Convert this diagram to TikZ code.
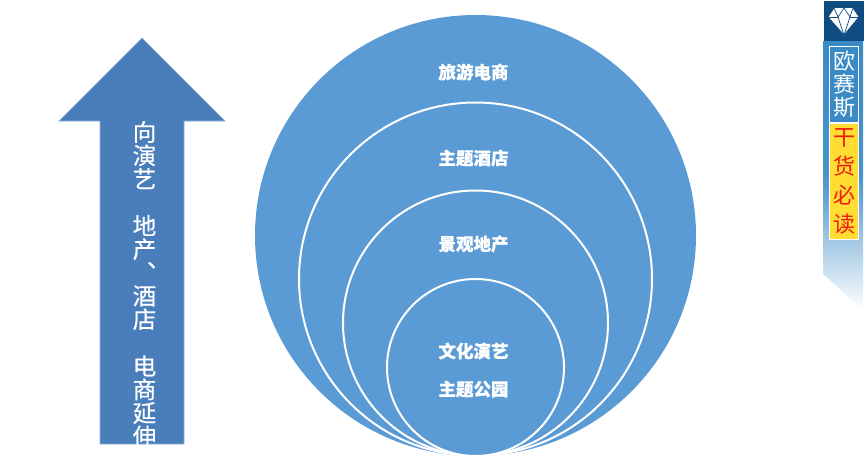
\documentclass[tikz,border=0pt]{standalone}
\usepackage{fontspec}
\setmainfont{Noto Sans CJK SC}
\newfontfamily\heavyfont[BoldFeatures={FakeBold=0.5}]{Noto Sans CJK SC}
\newfontfamily\stemfont[FakeBold=0.5]{Noto Sans CJK SC}
\usetikzlibrary{positioning}
\definecolor{ringblue}{HTML}{5B9BD5}
\definecolor{arrowblue}{HTML}{4A7EBB}
\definecolor{stripblue}{HTML}{3A8AC6}
\definecolor{capblue}{HTML}{0F4C81}
\definecolor{tagyellow}{HTML}{FFDD33}
\definecolor{tagred}{HTML}{F01A10}

\begin{document}
\begin{tikzpicture}[x=1pt,y=-1pt,
		ring/.style={circle, draw=white, line width=2pt, fill=ringblue, inner sep=0pt},
		ringlabel/.style={text=white, font=\fontsize{17.5}{20}\heavyfont\bfseries, inner sep=0pt},
		stacked/.style={align=center, inner sep=0pt, font=\fontsize{23.5}{23.4}\stemfont},
		tagbox/.style={draw=white, line width=1.2pt, minimum width=29pt, inner sep=0pt, anchor=north},
		facet/.style={draw=capblue, line width=0.7pt, fill=white, line join=round}]
	\useasboundingbox (0,0) rectangle (865,463);
	% arrow on the left
	\draw[fill=arrowblue, draw=arrowblue!60!white, line width=0.6pt]
		(142,38) -- (225,121) -- (184,121) -- (184,444) -- (100,444) -- (100,121) -- (59,121) -- cycle;
	\begin{scope}
		\clip (100,38) rectangle (184,444);
		\node[stacked, text=white, anchor=north] (arrowtext) at (144.5,121)
			{向\\演\\艺\\ \\地\\产\\︑\\酒\\店\\ \\电\\商\\延\\伸};
	\end{scope}
	% circles, all touching at the bottom
	\node[ring, draw=none, minimum size=441pt] (ringtravel) at (475.5,235.5) {};
	\node[ring, minimum size=353pt] (ringhotel) at (475.5,279) {};
	\node[ring, minimum size=265pt] (ringland) at (475.5,323) {};
	\node[ring, minimum size=177pt] (ringshow) at (475.5,367.5) {};
	\node[ringlabel] (travel) at (473.5,72) {旅游电商};
	\node[ringlabel] (hotel) at (473.5,158) {主题酒店};
	\node[ringlabel] (land) at (473.5,244) {景观地产};
	\node[ringlabel] (show) at (473.5,351) {文化演艺};
	\node[ringlabel] (park) at (473.5,389) {主题公园};
	% ribbon on the right
	\shade[top color=stripblue, bottom color=white, middle color=stripblue!92!white]
		(823,41) -- (863,41) -- (863,310) -- (823,274) -- cycle;
	\fill[capblue] (824,1) rectangle (864,41);
	\draw[facet] (834,8) -- (853,8) -- (859,17) -- (844,35) -- (828,17) -- cycle;
	\draw[facet] (828,17) -- (859,17);
	\draw[facet] (834,8) -- (838,17) -- (844,35) -- (850,17) -- (853,8);
	\draw[facet] (838,17) -- (844,8) -- (850,17);
	\node[tagbox, minimum height=76pt, fill=stripblue] (tagname) at (844,46) {};
	\node[tagbox, minimum height=116pt, fill=tagyellow, below=0pt of tagname] (tagread) {};
	\node[stacked, text=white, font=\fontsize{22}{23}\selectfont] (nametext) at (tagname.center) {欧\\赛\\斯};
	\node[stacked, text=tagred, font=\fontsize{22}{29}\selectfont] (readtext) at (tagread.center) {干\\货\\必\\读};
\end{tikzpicture}
\end{document}
